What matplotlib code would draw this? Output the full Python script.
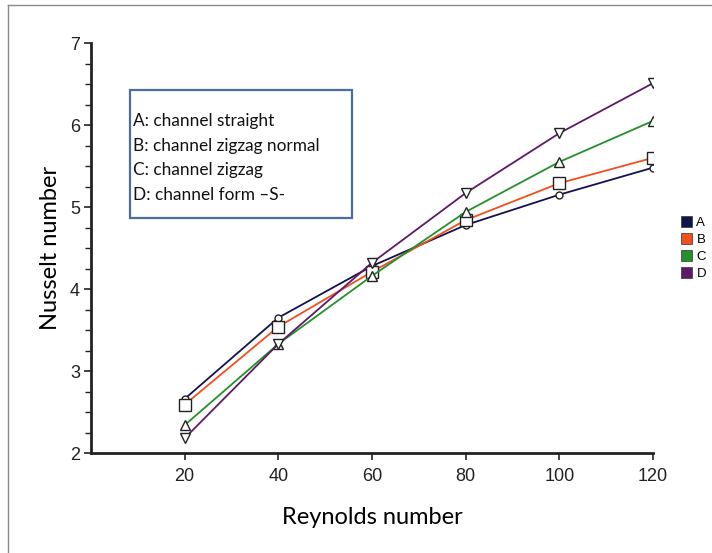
import matplotlib
matplotlib.use("Agg")
import matplotlib.pyplot as plt
from matplotlib.patches import Patch, Rectangle
from matplotlib.lines import Line2D
from matplotlib.ticker import MultipleLocator

# Data
reynolds = [20, 40, 60, 80, 100, 120]
nu_a = [2.66, 3.65, 4.28, 4.78, 5.15, 5.48]
nu_b = [2.59, 3.54, 4.21, 4.84, 5.29, 5.60]
nu_c = [2.34, 3.33, 4.16, 4.94, 5.55, 6.05]
nu_d = [2.18, 3.33, 4.32, 5.17, 5.90, 6.51]
series_names = ["A", "B", "C", "D"]
descriptions = [
    "A: channel straight",
    "B: channel zigzag normal",
    "C: channel zigzag",
    "D: channel form \u2013S-",
]
x_ticks = [20, 40, 60, 80, 100, 120]
y_ticks = [2, 3, 4, 5, 6, 7]

colors = ["#12124f", "#f0501e", "#23912a", "#5e1a66"]
markers = ["o", "s", "^", "v"]
msizes = [5, 8, 7.5, 7.5]

tick_font = "Liberation Sans"
label_font = "Lato"

W, H = 712, 553
fig = plt.figure(figsize=(W / 100, H / 100), dpi=100)
ax = fig.add_axes([91 / W, 1 - 453 / H, (653 - 91) / W, (453 - 43) / H])

for vals, c, m, ms in zip([nu_a, nu_b, nu_c, nu_d], colors, markers, msizes):
    ax.plot(reynolds, vals, color=c, lw=1.3, marker=m, ms=ms,
            mfc="white", mec="#222222", mew=1.0, zorder=3)

ax.set_xlim(0, 120)
ax.set_ylim(2, 7)
ax.set_xticks(x_ticks)
ax.set_yticks(y_ticks)
ax.yaxis.set_minor_locator(MultipleLocator(0.25))

for side in ["top", "right"]:
    ax.spines[side].set_visible(False)
for side in ["left", "bottom"]:
    ax.spines[side].set_linewidth(2.0)
    ax.spines[side].set_color("#222222")

ax.tick_params(axis="both", which="major", length=5, width=1.2, color="#222222",
               labelsize=13, pad=3, labelcolor="#222222",
               labelfontfamily=tick_font)
ax.tick_params(axis="x", pad=6)
ax.tick_params(axis="y", which="minor", length=4, width=1.0, color="#222222")

ax.set_xlabel("Reynolds number", fontsize=17, fontfamily=label_font, labelpad=16)
ax.set_ylabel("Nusselt number", fontsize=17, fontfamily=label_font, labelpad=6)

# Description box
fig.patches.append(Rectangle((130 / W, 1 - 218 / H), (352 - 130) / W, (218 - 90) / H,
                             transform=fig.transFigure, fill=False,
                             edgecolor="#4a6ea0", lw=1.6))
for i, txt in enumerate(descriptions):
    fig.text(133 / W, 1 - (121 + i * 24.7) / H, txt, fontsize=12.4,
             fontfamily=label_font, va="center", ha="left", color="#111111")

# Side legend
handles = [Patch(facecolor=c, edgecolor="#333333", lw=0.5) for c in colors]
leg = fig.legend(handles, series_names, loc="center left",
                 bbox_to_anchor=(672 / W, 1 - 248 / H), frameon=False,
                 handlelength=0.8, handleheight=0.9, handletextpad=0.35,
                 labelspacing=0.3, borderpad=0.2,
                 prop={"family": tick_font, "size": 9.5})

# Figure frame
fig.add_artist(Line2D([8 / W, 1], [1 - 5 / H, 1 - 5 / H], transform=fig.transFigure,
                      color="#8a8a8a", lw=1.0))
fig.add_artist(Line2D([8 / W, 8 / W], [0, 1 - 5 / H], transform=fig.transFigure,
                      color="#8a8a8a", lw=1.0))

fig.savefig("out.png", dpi=100)
